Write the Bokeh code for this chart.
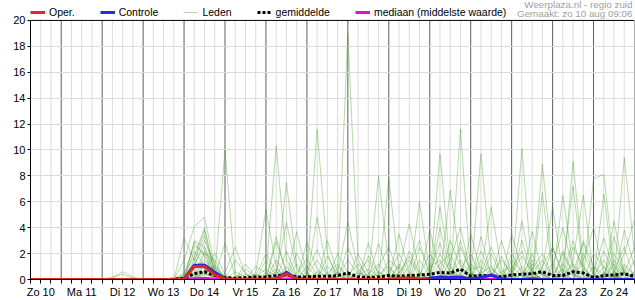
from bokeh.plotting import figure
from bokeh.models import Range1d, FixedTicker, Legend, LegendItem, Label, Span
from bokeh.embed import file_html
from bokeh.resources import INLINE

FONT = "Liberation Sans"

# 6-hourly steps starting Zo 10 aug 06:00
start_hour = 6
steps = list(range(60))
day_labels = ["Zo 10", "Ma 11", "Di 12", "Wo 13", "Do 14", "Vr 15", "Za 16", "Zo 17",
              "Ma 18", "Di 19", "Wo 20", "Do 21", "Vr 22", "Za 23", "Zo 24"]
y_ticks = [0, 2, 4, 6, 8, 10, 12, 14, 16, 18, 20]

oper = [0,0,0,0, 0,0,0,0, 0,0,0,0, 0,0,0,0, 1.0,1.0,0.35,0.02, 0,0,0,0, 0.02,0.45,0.02,0, 0,0,0,0, 0,0,0,0, 0.1,0.12,0.05,0]
controle = [0,0,0,0, 0,0,0,0, 0,0,0,0, 0,0,0,0.05, 1.1,1.1,0.55,0.05, 0,0,0,0, 0.05,0.55,0.05,0, 0,0,0,0, 0,0,0,0, 0,0,0,0.1, 0.2,0.15,0.2,0.05, 0.15,0.35,0.05,0, 0,0,0,0, 0,0,0,0, 0,0,0,0]
gemiddelde = [0,0,0,0, 0,0,0,0, 0,0,0,0, 0,0,0.02,0.1, 0.45,0.6,0.3,0.15, 0.1,0.15,0.2,0.2, 0.3,0.35,0.2,0.2, 0.25,0.25,0.3,0.5, 0.2,0.15,0.2,0.3, 0.25,0.3,0.35,0.4, 0.55,0.5,0.8,0.25, 0.3,0.3,0.2,0.35, 0.4,0.45,0.6,0.3, 0.3,0.6,0.5,0.15, 0.3,0.35,0.45,0.25]
mediaan = [0,0,0,0, 0,0,0,0, 0,0,0,0, 0,0,0,0, 0.05,0.1,0.02,0, 0,0,0,0, 0,0,0,0, 0,0,0,0, 0,0,0,0, 0,0,0,0, 0,0,0,0, 0,0,0,0, 0,0.1,0,0, 0,0,0,0, 0,0,0,0]

lid01 = [0,0,0,0, 0,0,0,0, 0,0,0,0, 0,0,0,1.5, 4.1,4.8,1.0,0.2, 0,0,0,0, 0.5,4.4,0.8,0, 0,0,0,0.3, 1.2,0.2,0,0, 0,0,0,0, 5.6,1.0,0,0, 0.6,5.6,0.8,0, 0,0,6.7,0.4, 0,1.5,6.5,0.3, 0,0,3.8,1.0]
lid02 = [0,0,0,0, 0,0,0,0, 0,0,0,0, 0,0,0,0, 1.2,2.5,0.3,10.0, 0.4,0,0,0, 0,0,0,0.6, 2.3,0.3,0,0, 0,0,0,0, 0.5,1.8,0.4,0, 0,0,2.5,0.6, 0,0,0,0.8, 2.2,0.3,0,0, 0.5,3.0,0.6,0, 0,1.2,0.2,0]
lid03 = [0,0,0,0, 0,0,0,0, 0,0,0,0, 0,0,0,3.2, 1.5,3.8,0.5,0, 0,0,0.5,5.4, 1.0,0,0,0, 4.8,0.5,0,0, 0,0,0,0, 0,0,6.0,0.5, 0,0,11.6,0.4, 0,0,0,0, 4.5,0.6,0,0, 0,9.1,1.0,0, 6.6,0.3,0,0]
lid04 = [0,0,0,0, 0,0,0,0, 0,0,0,0, 0,0,0,0, 3.0,2.5,0.8,0, 0,0,0,0.5, 10.3,1.5,0.2,0, 0,0,0,0, 0,0,8.0,1.0, 0,0,0,0, 0,6.9,1.2,0, 0,0,1.8,0.2, 0,0,0,0, 6.5,1.0,0,0, 0,0,9.4,2.0]
lid05 = [0,0,0,0, 0,0,0,0, 0,0,0,0, 0,0,0,0, 2.2,1.0,0,0, 1.5,0.5,0,0, 0,7.5,1.0,0, 0,0,0.2,19.0, 1.5,0,0,0, 1.0,0,0,0, 0,0,0,0, 9.7,1.0,0,0, 0,0,8.9,1.0, 0,0,0,7.8, 8.1,1.0,0,0]
lid06 = [0,0,0,0, 0,0,0,0, 0,0,0,0, 0,0,0,0, 1.0,3.0,1.2,0, 0,0,1.0,0.5, 0,0,3.7,0.5, 0,0,0.5,4.4, 0.8,0,0,7.8, 0.6,0,0,0, 9.7,1.0,0,0, 0,0,0,0, 10.1,0.5,0,0, 0,0,0.8,0, 0,3.3,0.4,0]
lid07 = [0,0,0,0, 0,0,0,0, 0,0,0,0, 0,0,0,0, 0,2.0,1.5,0, 0,0,0,0, 2.9,0.6,0,0.3, 11.6,2.0,0,0, 0,2.8,0.3,0, 0,1.0,3.0,0.3, 0,0,0,0.5, 0,0,0,2.0, 0.5,0,0,0, 1.0,7.2,0.5,0, 0,0,2.0,4.6]
lid08 = [0,0,0,0, 0,0,0,0, 0,0,0,0, 0,0,0,0.4, 1.8,4.0,0.6,0, 0,0,0,0, 0,0,0,2.9, 0.8,0,0,0, 0,0,2.8,0.4, 0,0,0,3.8, 0.6,0,0,0, 0,2.0,0.3,0, 0,3.7,0.5,0, 0,0,0,2.0, 1.0,0,0,0]
lid09 = [0,0,0,0, 0,0,0,0, 0,0,0,0, 0,0,0,0.5, 2.6,2.0,0.2,0, 0,0.8,0.2,0, 0,0,2.0,0.4, 0,0,0,0, 0.6,1.5,0,0, 3.5,0.5,0,0, 0,1.5,4.0,0.5, 0,0,3.0,0.4, 0,0,0,1.0, 4.0,0.8,0,0, 0,1.5,0.5,0]
lid10 = [0,0,0,0, 0,0,0,0, 0,0,0,0, 0,0,0,0, 0.8,1.5,0.5,0, 0,0,0.3,2.0, 0.6,0,0,0, 0,3.0,0.5,0, 0,0,0,1.5, 0.8,4.3,0.6,0, 2.0,0.6,0,0, 3.3,0.4,0,0, 0,0,0.8,5.6, 0.5,0,3.0,1.0, 0,0,0,0.6]
lid11 = [0,0,0,0, 0,0,0,0, 0.1,0.6,0.2,0, 0,0,0,0, 1.4,3.4,0.4,0, 0,0,0,0, 3.3,0.5,0,0, 0,0,1.0,0.3, 0,0,1.0,2.5, 0.3,0,0,0, 0,0,0,0, 0.5,1.0,0,0, 0.4,1.5,0.4,0, 2.2,0.5,0,0, 0.4,2.0,0.6,0]
lid12 = [0,0,0,0, 0,0,0,0, 0.2,0.4,0.1,0, 0,0,0,0, 0.6,1.0,0.3,0, 0.6,0.2,0,0, 0,0,1.2,0.4, 0,0,0,0, 2.0,0.5,0,0, 0,0,1.5,0.3, 0,0,0,1.2, 0.4,0,0,1.5, 0.6,0,0,2.5, 0.5,0,0,0.5, 3.2,0.6,0,0]
lid13 = [0,0,0,0, 0,0,0,0, 0,0,0,0, 0,0,0,0, 2.9,1.8,0.2,2.8, 0.3,0,0,0, 0,0,0,0, 0.3,1.0,0.3,0, 0,1.8,0.5,0, 0,0,0,0.5, 2.8,0.4,0,0, 0,0.3,1.5,0.5, 0,0,1.0,2.5, 0.3,0,0,0.3, 1.5,0.2,0,0]
lid14 = [0,0,0,0, 0,0,0,0, 0,0,0,0, 0,0,0,0, 0,1.2,0.8,0.2, 0,0,0,1.5, 0.3,0,0,1.0, 0.2,0,0,0, 0,0,0.6,0.2, 0,0,0,0, 0,3.0,1.0,0.2, 0,0,0,0, 0,1.2,0.3,0, 0,2.5,1.0,0, 0,0,1.0,0.4]
lid15 = [0,0,0,0, 0,0,0,0, 0,0,0,0, 0,0,0,0, 0.4,0.9,0.6,0, 0,0.4,0,0, 0,2.2,0.3,0, 0,0,0.2,1.5, 0.4,0,0,0, 0,2.2,0.5,0, 0,0,0.8,2.0, 0.3,0,0,0, 1.0,0.2,0,0, 0.3,1.2,0.2,0, 0,0.6,2.5,0]
lid16 = [0,0,0,0, 0,0,0,0, 0,0,0,0, 0,0,0,0, 0,0.7,2.0,0.4, 0,0,0.2,0.8, 0.2,0,0,0, 0,0,2.0,0.5, 0,0,0,0, 0.4,0,0,1.0, 1.5,0.2,0,0, 0,0.8,0.2,0, 0,0.8,2.0,0.3, 0,0,0,0, 0.5,0.3,0,1.5]
lid17 = [0,0,0,0, 0,0,0,0, 0,0,0,0, 0,0,0,0, 1.6,0.8,0,0, 0.2,0,0,0, 0,0,0.5,1.6, 0.3,0,0,0, 0,0.4,1.2,0.3, 0,0,0,0, 0.3,0.4,1.5,0.3, 0,0,0,0.5, 1.8,0.6,0,0, 0,0,2.0,0.3, 0,0,0.8,0]
lid18 = [0,0,0,0, 0,0,0,0, 0,0,0,0, 0,0,0,0.3, 0.5,2.2,0.5,0, 0,0,0,0, 1.5,0.3,0,0, 0,0.5,1.2,0.2, 0,0,0,0, 0,0,0.3,2.0, 0.8,0,0,0, 1.5,0.4,0,0, 0,0,0,0.5, 1.2,0.4,0,0, 2.2,0.4,0,0]
lid19 = [0,0,0,0, 0,0,0,0, 0,0,0,0, 0,0,0,0, 0,0.4,0.3,0, 0,0,0,0.3, 0.8,0.2,0,0, 0,0,0,2.5, 0.6,0,0,0.5, 2.0,0.4,0,0, 0,0,0.5,0.8, 1.0,0.3,0,0, 0,0.5,1.5,0.2, 0,0,0,1.0, 0.4,0,0,0]
lid20 = [0,0,0,0, 0,0,0,0, 0,0,0,0, 0,0,0,0, 1.1,1.3,0.2,0, 0,0,0,0, 0,0,0,0, 0.6,0.2,0,0, 0.3,0.8,0.2,0, 0,0,0,0, 1.2,2.0,0.3,0, 0,0,0.6,1.0, 0.3,0,0,0, 0.8,0.3,0,0, 0,0.2,1.2,0.3]
lid21 = [0,0,0,0, 0,0,0,0, 0,0,0,0, 0,0,0,0, 0,0,0,0.5, 2.5,0.4,0,0, 0,0,0,0, 0,1.8,0.3,0, 0,0,0,0, 1.2,0.3,0,0, 4.0,0.6,0,0, 0.5,2.5,0.5,0, 0,2.0,0.4,0, 0,0,1.5,4.0, 0.5,0,0,0]
lid22 = [0,0,0,0, 0,0,0,0, 0,0,0,0, 0,0,0,0, 0,0.6,1.0,0, 0,1.2,0.2,0, 0,1.0,0.2,0, 0,0,0,0, 0.5,0.3,0,0, 0,0,2.5,0.5, 0,0,3.0,0.4, 0,0,0,3.5, 0.8,0,0,0, 2.0,0.4,0,0, 0,4.5,0.5,0]
lid23 = [0,0,0,0, 0,0,0,0, 0,0,0,0, 0,0,0,0, 0.3,0.5,0,0, 0,0,0,0.2, 0.6,0,0,0.3, 1.5,0.3,0,0, 0,0,0.4,1.0, 0.2,0,0,0, 0,0.5,0,3.5, 0.6,0,0,0, 3.0,0.5,0,0, 0,0.6,2.8,0.4, 0,0,0.5,2.5]
lid24 = [0,0,0,0, 0,0,0,0, 0,0,0,0, 0,0,0,0, 0.2,0.4,0.2,0, 0,0,0.4,0, 0,0,0.2,0, 0,0,0.6,0, 0,0.2,0,0, 0.5,1.5,0.2,0, 0,0,0.4,0, 2.2,0.5,0,0, 0,0,0.4,1.2, 0.2,0,0,0, 1.0,0.2,0,0]

leden = [lid01, lid02, lid03, lid04, lid05, lid06, lid07, lid08, lid09, lid10, lid11, lid12,
         lid13, lid14, lid15, lid16, lid17, lid18, lid19, lid20, lid21, lid22, lid23, lid24]
for m in leden:
    assert len(m) == len(steps), len(m)
assert len(controle) == 60 and len(gemiddelde) == 60 and len(mediaan) == 60 and len(oper) == 40

hour_of_day = [(start_hour + 6 * s) % 24 for s in steps]
midnights = [s for s, h in zip(steps, hour_of_day) if h == 0]
noons = [s for s, h in zip(steps, hour_of_day) if h == 12]
others = [s for s, h in zip(steps, hour_of_day) if h != 0]

Y_MAX = 20
# frame spans the whole height above the x axis; the strip above 20 holds the legend
p = figure(width=635, height=300, x_range=Range1d(0, 59),
           y_range=Range1d(0, Y_MAX * 280 / 260),
           output_backend="svg", toolbar_location=None,
           min_border_left=30, min_border_right=1, min_border_top=0, min_border_bottom=20)
p.background_fill_color = "white"
p.border_fill_color = "white"
p.outline_line_color = None

# grids
p.xgrid.visible = False
p.ygrid.ticker = FixedTicker(ticks=y_ticks[1:-1])
p.ygrid.grid_line_color = "#dcdcdc"
p.segment(x0=others, y0=[0] * len(others), x1=others, y1=[Y_MAX] * len(others),
          line_color="#dcdcdc", line_width=1, level="underlay")
p.segment(x0=midnights, y0=[0] * len(midnights), x1=midnights, y1=[Y_MAX] * len(midnights),
          line_color="#5e5e5e", line_width=1, level="underlay")
p.add_layout(Span(location=Y_MAX, dimension="width", line_color="black", line_width=1))

# axes
overrides = {s: "" for s in steps}
for s, lab in zip(noons, day_labels):
    overrides[s] = lab
p.xaxis.ticker = FixedTicker(ticks=steps)
p.xaxis.major_label_overrides = overrides
p.yaxis.ticker = FixedTicker(ticks=y_ticks)
p.yaxis.bounds = (0, Y_MAX)
for ax in (p.xaxis, p.yaxis):
    ax.axis_line_color = "black"
    ax.major_tick_line_color = "black"
    ax.minor_tick_line_color = None
    ax.major_tick_in = 0
    ax.major_label_text_font = FONT
    ax.major_label_text_font_size = "11px"
    ax.major_label_text_color = "black"
p.xaxis.major_tick_out = 4
p.xaxis.major_label_standoff = 2
p.yaxis.major_tick_out = 3
p.yaxis.major_label_standoff = 2

# series
r_leden = p.multi_line(xs=[steps] * len(leden), ys=leden, line_color="#3f9a22",
                       line_alpha=0.38, line_width=1)
r_med = p.line(steps, mediaan, line_color="#e010e0", line_width=3, line_join="round")
r_mean = p.line(steps, gemiddelde, line_color="black", line_width=3, line_dash="3 2")
r_ctrl = p.line(steps, controle, line_color="#2a2ad8", line_width=3, line_join="round")
r_oper = p.line(steps[:len(oper)], oper, line_color="#dc2a2a", line_width=3, line_join="round")

legend = Legend(items=[LegendItem(label="Oper.", renderers=[r_oper]),
                       LegendItem(label="Controle", renderers=[r_ctrl]),
                       LegendItem(label="Leden", renderers=[r_leden]),
                       LegendItem(label="gemiddelde", renderers=[r_mean]),
                       LegendItem(label="mediaan (middelste waarde)", renderers=[r_med])],
                orientation="horizontal", location=(0, 260), spacing=25,
                glyph_width=15, glyph_height=14, label_height=14, label_standoff=4,
                padding=0, margin=0, border_line_alpha=0, background_fill_alpha=0,
                label_text_font=FONT, label_text_font_size="10.5px", label_text_color="black")
p.add_layout(legend)

p.add_layout(Label(x=602, y=275, x_units="screen", y_units="screen",
                   text="Weerplaza.nl - regio zuid", text_align="right", text_baseline="middle",
                   text_font=FONT, text_font_size="9.8px", text_color="#a0a0a0"))
p.add_layout(Label(x=602, y=266, x_units="screen", y_units="screen",
                   text="Gemaakt: zo 10 aug 09:06", text_align="right", text_baseline="middle",
                   text_font=FONT, text_font_size="9.8px", text_color="#a0a0a0"))

open("out.html", "w").write(file_html(p, INLINE))
